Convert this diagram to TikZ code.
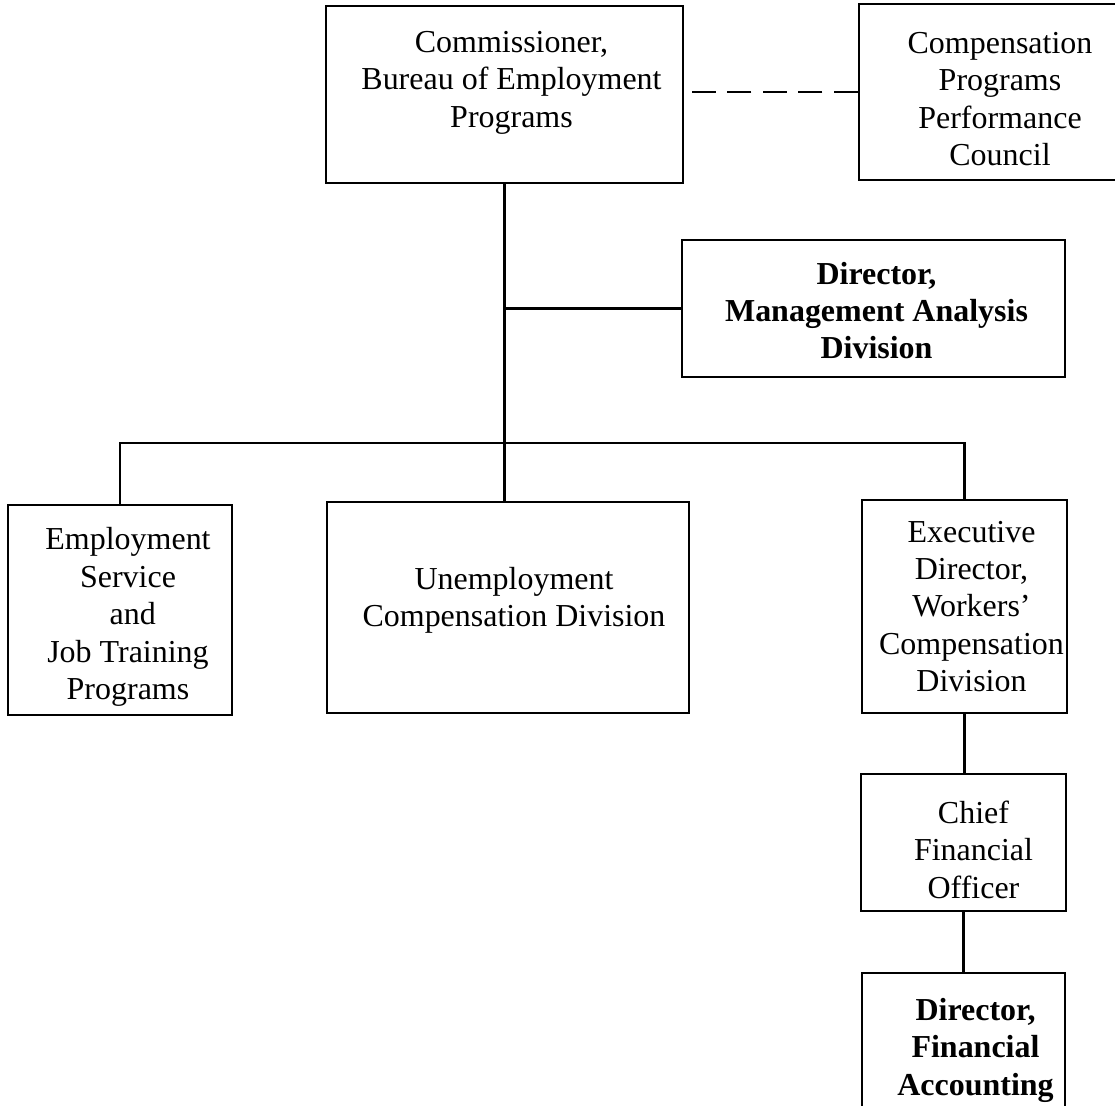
\documentclass[tikz,border=0pt]{standalone}
\usepackage{fontspec}
\setmainfont{Liberation Serif}

\begin{document}
\begin{tikzpicture}[x=0.02cm, y=-0.02cm,
    office/.style 2 args={draw, line width=1.2pt, inner sep=0pt,
      minimum width=#1*0.02cm, minimum height=#2*0.02cm},
    title/.style={align=center, inner sep=0pt, font=\fontsize{18.2}{21.3}\selectfont},
    head/.style={title, font=\fontsize{18.2}{21.3}\selectfont\bfseries},
    link/.style={line width=1.2pt},
    council link/.style={link, dash pattern=on 0.48cm off 0.23cm}]
    \useasboundingbox (0,0) rectangle (1115,1105);
    % top level
    \node[office={357}{177}] (comm) at (504.5,94.5) {};
    \node[title] (commtxt) at ([shift={(7,-12)}]comm.center) {Commissioner,\\Bureau of Employment\\Programs};
    \node[office={282}{176}] (council) at (1000,92) {};
    \node[title] (counciltxt) at ([shift={(0,7)}]council.center) {Compensation\\Programs\\Performance\\Council};
    \node[office={383}{137}] (mad) at (873.5,308.5) {};
    \node[head] (madtxt) at ([shift={(3,2)}]mad.center) {Director,\\Management Analysis\\Division};
    % divisions
    \node[office={224}{210}] (emp) at (120,610) {};
    \node[title] (emptxt) at ([shift={(8,7)}]emp.center) {Employment\\Service\\\hspace{0.3em}and\\Job Training\\Programs};
    \node[office={362}{211}] (unemp) at (508,607.5) {};
    \node[title] (unemptxt) at ([shift={(6,-7)}]unemp.center) {Unemployment\\Compensation Division};
    \node[office={205}{213}] (exec) at (964.5,606.5) {};
    \node[title] (exectxt) at ([shift={(7,0)}]exec.center) {Executive\\Director,\\Workers'\\Compensation\\Division};
    \node[office={205}{137}] (cfo) at (963.5,842.5) {};
    \node[title] (cfotxt) at ([shift={(10,7)}]cfo.center) {Chief\\Financial\\Officer};
    \node[office={203}{144}] (dfa) at (963.5,1045) {};
    \node[head] (dfatxt) at ([shift={(12,5)}]dfa.center) {Director,\\Financial\\Accounting};
    % connectors
    \coordinate (hub) at (504.5,443);
    \draw[link] (comm.south) -- (hub);
    \draw[link] (comm.south |- mad.west) -- (mad.west);
    \draw[link] (emp.north) |- (hub) -| (exec.north);
    \draw[link] (hub) -- (hub |- unemp.north);
    \draw[link] (exec.south) -- (exec.south |- cfo.north);
    \draw[link] (cfo.south) -- (cfo.south |- dfa.north);
    \draw[council link] (council.west) -- ++(-166,0);
\end{tikzpicture}
\end{document}
